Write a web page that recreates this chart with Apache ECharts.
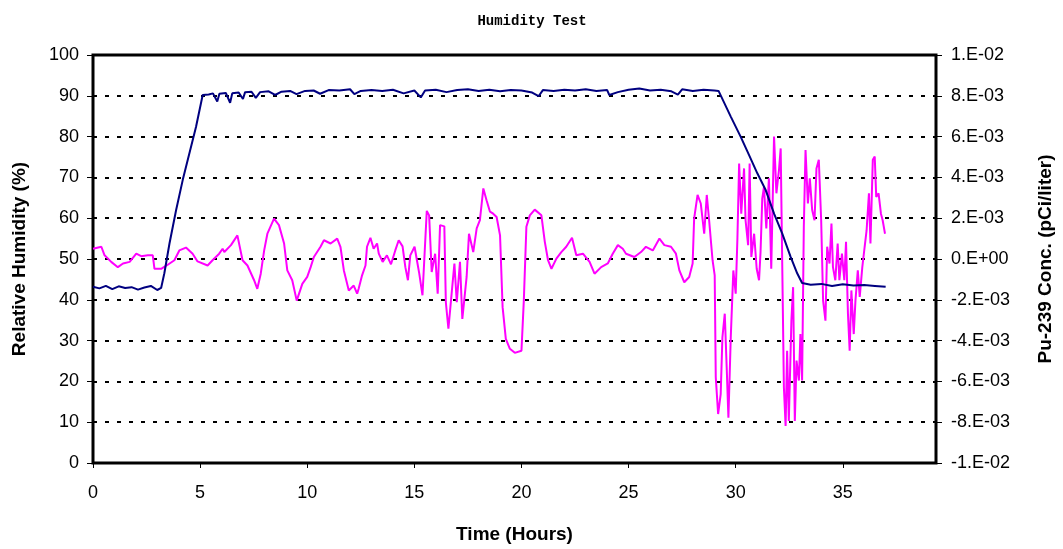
<!DOCTYPE html>
<html>
<head>
<meta charset="utf-8">
<title>Humidity Test</title>
<script src="https://cdn.jsdelivr.net/npm/echarts@6/dist/echarts.min.js"></script>
<style>
  html, body { margin: 0; padding: 0; background: #fff; }
  #chart { width: 1063px; height: 549px; }
</style>
</head>
<body>
<div id="chart"></div>
<script>
// Relative humidity (%)
const humidityHours = [
  0, 0.3, 0.6, 0.9, 1.2, 1.5, 1.8, 2.1, 2.4, 2.7, 3.0, 3.18,
  3.33, 3.57, 3.88, 4.19, 4.5, 4.81, 5.12,
  5.4, 5.6, 5.8, 5.9, 6.2, 6.4, 6.5, 6.8, 7.0, 7.1, 7.4, 7.6, 7.8, 8.2, 8.5, 8.8,
  9.2, 9.5, 9.9, 10.3, 10.6, 11, 11.5, 12, 12.2, 12.5, 13, 13.5, 14, 14.5, 15, 15.3, 15.5,
  16, 16.5, 17, 17.5, 18, 18.5, 19, 19.5, 20, 20.5, 20.8, 21, 21.5, 22, 22.5, 23, 23.5,
  24, 24.1, 24.5, 25, 25.5, 26, 26.5, 27, 27.3, 27.5, 28, 28.5, 29, 29.2,
  29.77, 30.23, 30.62, 31.01, 31.4, 31.8, 32.17, 32.56, 32.87, 33.1,
  33.5, 34, 34.5, 35, 35.5, 36, 36.5, 37
];
const humidityValues = [
  43.2, 42.8, 43.4, 42.6, 43.3, 42.9, 43.1, 42.5, 43.0, 43.4, 42.4, 42.9,
  46.5, 53.8, 62, 69.4, 75.9, 82.4, 90.2,
  90.3, 90.6, 88.6, 90.5, 90.7, 88.3, 90.6, 90.8, 89.2, 90.9, 91.0, 89.5, 90.9, 91.1, 90.2, 91.0,
  91.2, 90.4, 91.2, 91.3, 90.5, 91.4, 91.3, 91.6, 90.4, 91.2, 91.4, 91.2, 91.5, 90.6, 91.3, 89.6, 91.3,
  91.5, 90.9, 91.4, 91.6, 91.2, 91.5, 91.1, 91.4, 91.3, 90.8, 89.9, 91.4, 91.2, 91.5, 91.3, 91.6, 91.2,
  91.4, 90.2, 90.9, 91.5, 91.8, 91.3, 91.5, 91.1, 90.3, 91.6, 91.2, 91.5, 91.3, 91.2,
  84.9, 80, 75.5, 71, 66.9, 61, 56.3, 50.6, 46.5, 44.1,
  43.7, 43.9, 43.4, 43.8, 43.5, 43.6, 43.4, 43.2
];

// Pu-239 concentration, in units of 1E-03 pCi/liter (magenta trace)
const puHours = [
  0, 0.39, 0.54, 0.85, 1.16, 1.4, 1.71, 2.02, 2.25, 2.56, 2.79, 2.87, 3.18, 3.49, 3.8,
  4.03, 4.34, 4.65, 4.88, 5.35, 5.58, 5.89, 6.05, 6.13, 6.44, 6.74, 6.98, 7.21, 7.52,
  7.67, 7.83, 7.99, 8.14, 8.45, 8.68, 8.92, 9.07, 9.3, 9.51, 9.77, 10.0, 10.16, 10.31,
  10.62, 10.78, 11.09, 11.4, 11.55, 11.71, 11.94, 12.17, 12.33, 12.4, 12.56, 12.72,
  12.79, 12.95, 13.1, 13.26, 13.34, 13.52, 13.72, 13.91, 14.11, 14.27, 14.45, 14.58,
  14.7, 14.81, 15.01, 15.12, 15.23, 15.38, 15.47, 15.58, 15.69, 15.81, 15.97, 16.09,
  16.2, 16.4, 16.47, 16.59, 16.74, 16.87, 16.98, 17.13, 17.24, 17.44, 17.55, 17.75,
  17.91, 18.06, 18.22, 18.37, 18.53, 18.68, 18.84, 19.0, 19.12, 19.27, 19.46, 19.69,
  20.0, 20.11, 20.23, 20.39, 20.62, 20.93, 21.09, 21.24, 21.4, 21.63, 21.86, 22.09,
  22.36, 22.56, 22.87, 23.18, 23.41, 23.72, 24.03, 24.26, 24.5, 24.73, 24.88, 24.96,
  25.27, 25.58, 25.81, 26.13, 26.44, 26.67, 26.98, 27.21, 27.37, 27.6, 27.83, 27.99,
  28.06, 28.22, 28.37, 28.53, 28.65, 28.76, 28.92, 29.02, 29.07, 29.18, 29.3, 29.38,
  29.49, 29.58, 29.66, 29.77, 29.89, 30.0, 30.08, 30.16, 30.26, 30.39, 30.46, 30.58,
  30.65, 30.73, 30.86, 30.98, 31.09, 31.16, 31.24, 31.32, 31.43, 31.55, 31.66, 31.79,
  31.9, 32.02, 32.1, 32.17, 32.25, 32.33, 32.4, 32.48, 32.6, 32.68, 32.76, 32.84,
  32.95, 33.02, 33.1, 33.18, 33.26, 33.37, 33.46, 33.57, 33.68, 33.77, 33.88, 33.99,
  34.08, 34.19, 34.27, 34.38, 34.47, 34.54, 34.65, 34.76, 34.84, 34.96, 35.07, 35.15,
  35.24, 35.32, 35.4, 35.51, 35.59, 35.7, 35.79, 35.91, 36.02, 36.11, 36.22, 36.29,
  36.4, 36.49, 36.56, 36.67, 36.78, 36.86, 36.97
];
const puValuesE3 = [
  0.5, 0.6, 0.18, -0.14, -0.4, -0.22, -0.14, 0.26, 0.14, 0.18, 0.18, -0.48, -0.48, -0.28, -0.06,
  0.42, 0.56, 0.26, -0.12, -0.32, -0.06, 0.26, 0.5, 0.34, 0.68, 1.16, -0.06, -0.32, -1.04,
  -1.46, -0.72, 0.42, 1.24, 1.98, 1.66, 0.76, -0.56, -1.04, -2.04, -1.22, -0.88, -0.4, 0.1,
  0.6, 0.92, 0.76, 1.0, 0.6, -0.56, -1.54, -1.3, -1.7, -1.46, -0.8, -0.32,
  0.6, 1.04, 0.5, 0.76, 0.26, -0.14, 0.18, -0.26, 0.42, 0.92, 0.62, -0.4,
  -1.04, 0.18, 0.6, -0.06, -0.72, -1.78, -1.7, 2.36, 2.14, -0.64, 0.26, -1.7,
  1.66, 1.6, -2.12, -3.42, -1.7, -0.22, -2.12, -0.14, -2.94, -0.88, 1.24, 0.34,
  1.5, 1.9, 3.46, 2.88, 2.32, 2.22, 2.06, 1.16, -2.36, -3.92, -4.4, -4.6,
  -4.5, -2.04, 1.58, 2.14, 2.42, 2.14, 0.84, -0.06, -0.48, 0.02, 0.34, 0.6,
  1.04, 0.18, 0.26, -0.14, -0.72, -0.4, -0.22, 0.26, 0.68, 0.5, 0.26, 0.34,
  0.1, 0.34, 0.6, 0.42, 1.0, 0.68, 0.6, 0.26, -0.56, -1.14, -0.88, -0.22,
  1.98, 3.14, 2.72, 1.24, 3.14, 1.9, -0.06, -0.8, -5.8, -7.6, -6.62, -3.84,
  -2.68, -5.32, -7.78, -3.84, -0.56, -1.7, 1.0, 4.68, 2.22, 4.44, 1.9, 0.68,
  4.68, 0.1, 1.24, -0.48, -1.04, 0.34, 2.96, 3.54, 1.5, 3.96, -0.48, 6.0,
  3.22, 4.36, 5.42, -0.06, -6.3, -8.18, -4.5, -7.94, -3.02, -1.38, -7.94, -4.98,
  -5.96, -3.68, -5.96, 1.58, 5.34, 2.72, 3.96, 2.4, 1.9, 4.44, 4.86, 1.9,
  -2.04, -3.02, 0.6, -0.22, 1.74, -0.4, -1.04, 0.76, -1.04, 0.26, -1.04, 0.84,
  -2.68, -4.5, -1.54, -3.68, -2.04, -0.56, -1.86, -0.4, 0.6, 1.4, 3.22, 0.76,
  4.86, 5.02, 3.04, 3.22, 2.22, 1.9, 1.24
];

const humidityTicks = [0, 100, 10];
const concTicks = [-0.01, 0.01, 0.002];
const timeTicks = [0, 39.35, 5];

const fontFamily = '"Liberation Sans", Arial, sans-serif';

// Excel "0.E+00" style labels
const sciLabel = (v) => {
  if (Math.abs(v) < 1e-12) return '0.E+00';
  let e = Math.floor(Math.log10(Math.abs(v)) + 1e-9);
  let m = Math.round(v / Math.pow(10, e));
  if (Math.abs(m) >= 10) { m = m / 10; e += 1; }
  return m + '.E' + (e < 0 ? '-' : '+') + String(Math.abs(e)).padStart(2, '0');
};

const humidityData = humidityHours.map((t, i) => [t, humidityValues[i]]);
const puData = puHours.map((t, i) => [t, puValuesE3[i] * 1e-3]);

const chart = echarts.init(document.getElementById('chart'), null, { renderer: 'canvas' });

const nameStyle = { fontFamily, fontWeight: 'bold', fontSize: 19, color: '#000' };
const labelStyle = { fontFamily, fontSize: 18, color: '#000' };

const option = {
  animation: false,
  backgroundColor: '#fff',
  title: {
    text: 'Humidity Test',
    left: 527,
    top: 9,
    textAlign: 'center',
    textStyle: { fontFamily: '"Liberation Mono", "DejaVu Sans Mono", monospace', fontWeight: 'bold', fontSize: 14, color: '#000' }
  },
  grid: {
    left: 93, right: 124, top: 55, bottom: 86,
    show: true, borderColor: '#000', borderWidth: 3, backgroundColor: '#fff'
  },
  xAxis: {
    type: 'value',
    min: timeTicks[0], max: timeTicks[1], interval: timeTicks[2],
    name: 'Time (Hours)',
    nameLocation: 'middle',
    nameGap: 62,
    nameTextStyle: nameStyle,
    axisLine: { show: false },
    axisTick: { show: true, length: 5, lineStyle: { color: '#000', width: 1 } },
    axisLabel: Object.assign({ margin: 21, showMaxLabel: false }, labelStyle),
    splitLine: { show: false }
  },
  yAxis: [
    {
      type: 'value',
      position: 'left',
      min: humidityTicks[0], max: humidityTicks[1], interval: humidityTicks[2],
      name: 'Relative Humidity (%)',
      nameLocation: 'middle',
      nameRotate: 90,
      nameGap: 64,
      nameTextStyle: nameStyle,
      axisLine: { show: false },
      axisTick: { show: true, length: 6, lineStyle: { color: '#000', width: 1 } },
      axisLabel: Object.assign({ margin: 14 }, labelStyle),
      splitLine: { show: true, lineStyle: { color: '#000', width: 2, type: [4, 8] } }
    },
    {
      type: 'value',
      position: 'right',
      min: concTicks[0], max: concTicks[1], interval: concTicks[2],
      name: 'Pu-239 Conc. (pCi/liter)',
      nameLocation: 'middle',
      nameRotate: 90,
      nameGap: 100,
      nameTextStyle: nameStyle,
      axisLine: { show: false },
      axisTick: { show: true, length: 6, lineStyle: { color: '#000', width: 1 } },
      axisLabel: Object.assign({ margin: 15, formatter: sciLabel }, labelStyle),
      splitLine: { show: false }
    }
  ],
  series: [
    {
      name: 'Pu-239 Conc.',
      type: 'line',
      yAxisIndex: 1,
      data: puData,
      showSymbol: false,
      lineStyle: { color: '#FF00FF', width: 2 },
      itemStyle: { color: '#FF00FF' }
    },
    {
      name: 'Relative Humidity',
      type: 'line',
      yAxisIndex: 0,
      data: humidityData,
      showSymbol: false,
      lineStyle: { color: '#000080', width: 2 },
      itemStyle: { color: '#000080' }
    }
  ]
};

chart.setOption(option);
</script>
</body>
</html>
